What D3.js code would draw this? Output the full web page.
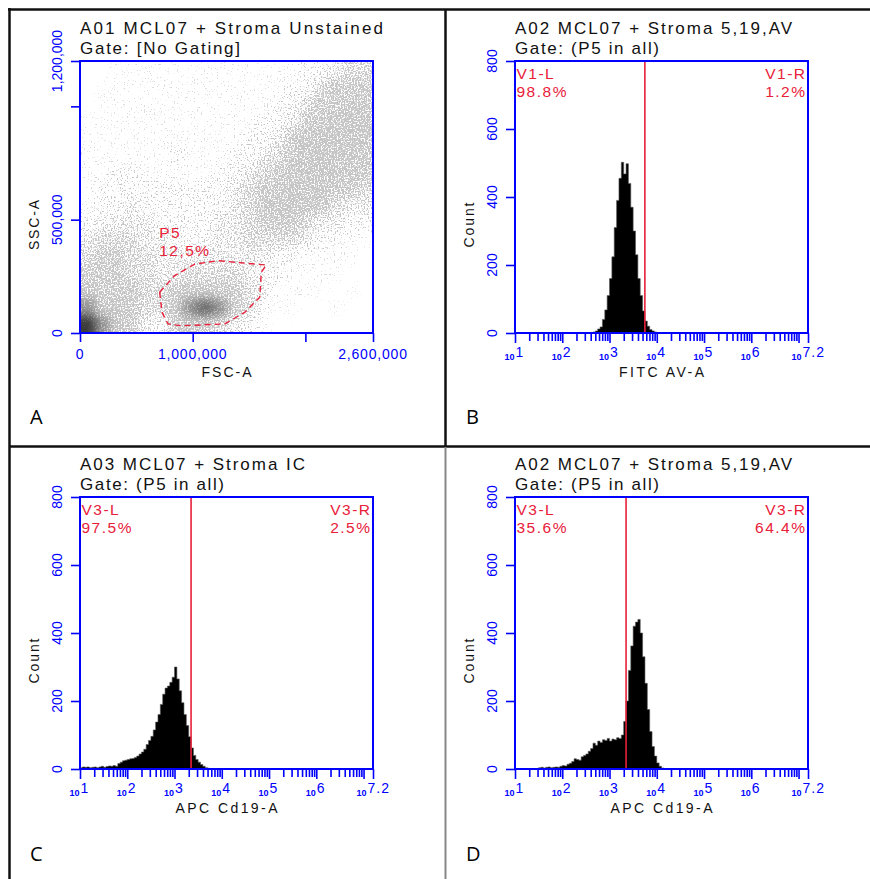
<!DOCTYPE html>
<html>
<head>
<meta charset="utf-8">
<style>
    body {
        margin: 0;
        background-color: white;
    }
    svg text {
        font-family: "Liberation Sans", Arial, sans-serif;
    }
    .title {
        fill: #111;
        font-size: 17px;
    }
    .tick-label {
        fill: #0000ff;
        font-size: 14px;
    }
    .axis-title {
        fill: #111;
        font-size: 14px;
    }
    .gate-label {
        fill: #e8203a;
        font-size: 15.5px;
        letter-spacing: 1.5px;
    }
    .panel-letter {
        font-family: "Open Sans", "Noto Sans", sans-serif !important;
        font-size: 20px;
        fill: #000;
    }
</style>
</head>
<body>
<script src="https://cdn.jsdelivr.net/npm/d3@7"></script>
<script>
    // ---- data ----
    var panelLetters = ["A", "B", "C", "D"];
    var titleLine1 = ["A01 MCL07 + Stroma Unstained", "A02 MCL07 + Stroma 5,19,AV", "A03 MCL07 + Stroma IC", "A02 MCL07 + Stroma 5,19,AV"];
    var titleLine2 = ["Gate: [No Gating]", "Gate: (P5 in all)", "Gate: (P5 in all)", "Gate: (P5 in all)"];
    var xAxisTitles = ["FSC-A", "FITC AV-A", "APC Cd19-A", "APC Cd19-A"];
    var yAxisTitles = ["SSC-A", "Count", "Count", "Count"];

    var fscTicks = [0, 1000000, 2000000, 2600000];
    var fscTickLabels = ["0", "1,000,000", "", "2,600,000"];
    var sscTicks = [0, 500000, 1000000, 1200000];
    var sscTickLabels = ["0", "500,000", "", "1,200,000"];
    var countTicks = [0, 200, 400, 600, 800];
    var decadeExponents = [1, 2, 3, 4, 5, 6, 7];
    var decadeLabelExponents = ["1", "2", "3", "4", "5", "6", "7.2"];

    // scatter density (A): 20 FSC columns x 16 SSC rows, top row first, level 0..9
    var fscStep = 130000;
    var sscStep = 75000;
    var densityGrid = [
        [0,0,1,1,1,1,1,1,1,1,1,1,1,1,1,2,2,3,4,4],
        [0,1,1,1,1,1,1,1,1,1,1,1,1,1,2,2,4,5,5,5],
        [0,1,1,1,1,1,1,1,1,1,1,1,1,2,2,4,5,5,6,5],
        [1,1,1,1,1,1,1,1,1,1,1,1,2,2,3,5,5,6,6,6],
        [1,1,1,1,1,1,1,1,1,1,1,2,2,3,5,6,6,6,6,6],
        [1,1,1,1,1,1,2,1,1,1,2,2,3,4,5,6,6,6,6,5],
        [1,1,2,2,1,1,1,1,1,2,2,3,4,5,6,6,6,6,5,5],
        [1,2,2,2,2,2,2,2,2,2,3,4,5,5,6,6,6,5,5,4],
        [1,2,2,3,2,2,2,2,2,2,3,4,5,6,6,6,5,4,3,3],
        [2,3,3,3,3,2,2,2,2,3,3,4,5,5,5,4,3,3,2,2],
        [3,4,4,4,3,3,2,2,2,3,3,4,4,4,4,3,2,2,1,1],
        [4,5,5,4,4,3,3,3,3,3,3,3,3,2,2,1,1,1,1,0],
        [5,5,5,4,4,3,3,4,4,4,4,3,2,2,1,1,1,1,0,0],
        [6,5,5,5,4,4,5,6,6,5,5,4,3,1,1,1,1,0,1,0],
        [7,6,6,5,4,4,6,7,8,7,5,4,2,1,1,0,0,1,0,0],
        [9,7,6,5,3,2,5,6,5,4,3,2,1,0,0,0,0,0,0,0]
    ];

    // P5 gate polygon [FSC, SSC]
    var gateP5 = [
        [707000, 180000], [728000, 91000], [781000, 40000], [899000, 32000],
        [1284000, 40000], [1461000, 91000], [1595000, 158000], [1609000, 268000],
        [1653000, 300000], [1225000, 319000], [1018000, 304000], [840000, 253000]
    ];
    var gateP5Label = ["P5", "12,5%"];

    // histograms: [log10 of bin start, count], bins 0.05 decade wide
    var binWidth = 0.05;
    var histB = [
        [2.65,3],[2.70,6],[2.75,12],[2.80,18],[2.85,40],[2.90,68],[2.95,110],[3.00,160],
        [3.05,224],[3.10,310],[3.15,390],[3.20,455],[3.25,502],[3.30,468],[3.35,498],[3.40,440],
        [3.45,370],[3.50,300],[3.55,230],[3.60,160],[3.65,110],[3.70,65],[3.75,35],[3.80,20],
        [3.85,10],[3.90,6],[3.95,3]
    ];
    var histC = [
        [1.00,4],[1.05,6],[1.10,5],[1.15,6],[1.20,4],[1.25,5],[1.30,6],[1.35,4],[1.40,6],[1.45,8],
        [1.50,5],[1.55,7],[1.60,9],[1.65,8],[1.70,10],[1.75,8],[1.80,16],[1.85,20],[1.90,24],[1.95,26],
        [2.00,28],[2.05,30],[2.10,31],[2.15,34],[2.20,38],[2.25,44],[2.30,50],[2.35,58],[2.40,72],[2.45,84],
        [2.50,96],[2.55,115],[2.60,138],[2.65,160],[2.70,190],[2.75,220],[2.80,238],[2.85,244],[2.90,255],[2.95,270],
        [3.00,300],[3.05,265],[3.10,230],[3.15,195],[3.20,160],[3.25,128],[3.30,95],[3.35,62],[3.40,40],[3.45,28],
        [3.50,20],[3.55,13],[3.60,8],[3.65,4],[3.70,2]
    ];
    var histD = [
        [1.50,4],[1.55,5],[1.60,3],[1.65,5],[1.70,6],[1.75,4],[1.80,5],[1.85,6],[1.90,5],[1.95,8],
        [2.00,10],[2.05,9],[2.10,14],[2.15,17],[2.20,22],[2.25,30],[2.30,28],[2.35,26],[2.40,36],[2.45,40],
        [2.50,44],[2.55,52],[2.60,60],[2.65,76],[2.70,70],[2.75,82],[2.80,78],[2.85,86],[2.90,84],[2.95,90],
        [3.00,82],[3.05,88],[3.10,86],[3.15,92],[3.20,90],[3.25,100],[3.30,140],[3.35,200],[3.40,290],[3.45,362],
        [3.50,420],[3.55,432],[3.60,440],[3.65,400],[3.70,330],[3.75,252],[3.80,175],[3.85,110],[3.90,66],[3.95,38],
        [4.00,18],[4.05,8],[4.10,3]
    ];
    var gateCuts = [5600, 2240, 2240];
    var gateNames = [["V1-L", "V1-R"], ["V3-L", "V3-R"], ["V3-L", "V3-R"]];
    var gatePercents = [["98.8%", "1.2%"], ["97.5%", "2.5%"], ["35.6%", "64.4%"]];

    // ---- layout ----
    var panels = [
        {x0: 9, y0: 9, plot: {x: 80, y: 61, w: 293, h: 272}},
        {x0: 445, y0: 9, plot: {x: 515, y: 61, w: 293, h: 272}},
        {x0: 9, y0: 446, plot: {x: 80, y: 497, w: 293, h: 272}},
        {x0: 445, y0: 446, plot: {x: 515, y: 497, w: 293, h: 272}}
    ];
    var titleWidths = [[303, 160], [277, 144], [225, 144], [277, 144]];
    var xTitleWidths = [50, 85, 102, 102];
    var yTitleWidths = [50, 45, 45, 45];

    var svg = d3.select("body")
            .append("svg")
            .attr("width", 870)
            .attr("height", 879);
    var defs = svg.append("defs");

    function styleTicks(sel) {
        sel.select(".domain").remove();
        sel.selectAll(".tick line")
                .attr("stroke", "#0000ff")
                .attr("stroke-width", 1.6);
    }

    function drawFrame(g, p) {
        g.append("rect")
                .attr("x", p.x).attr("y", p.y)
                .attr("width", p.w).attr("height", p.h)
                .attr("fill", "none")
                .attr("stroke", "#0000ff")
                .attr("stroke-width", 2);
    }

    function drawCommon(g, i) {
        var p = panels[i].plot;
        g.append("text").classed("title", 1)
                .attr("x", p.x).attr("y", p.y - 27)
                .attr("textLength", titleWidths[i][0]).attr("lengthAdjust", "spacing")
                .text(titleLine1[i]);
        g.append("text").classed("title", 1)
                .attr("x", p.x).attr("y", p.y - 7.5)
                .attr("textLength", titleWidths[i][1]).attr("lengthAdjust", "spacing")
                .text(titleLine2[i]);
        g.append("text").classed("axis-title", 1)
                .attr("x", p.x + p.w / 2 - xTitleWidths[i] / 2).attr("y", p.y + p.h + 44)
                .attr("textLength", xTitleWidths[i]).attr("lengthAdjust", "spacing")
                .text(xAxisTitles[i]);
        g.append("text").classed("axis-title", 1)
                .attr("transform", "translate(" + (p.x - 41) + "," + (p.y + 164 + yTitleWidths[i] / 2) + ") rotate(-90)")
                .attr("textLength", yTitleWidths[i]).attr("lengthAdjust", "spacing")
                .text(yAxisTitles[i]);
        g.append("text").classed("panel-letter", 1)
                .attr("x", panels[i].x0 + 21)
                .attr("y", panels[i].y0 + 415)
                .text(panelLetters[i]);
    }

    function drawYLabels(g, p, y, ticks, labels) {
        g.append("g")
                .attr("transform", "translate(" + p.x + ",0)")
                .call(d3.axisLeft(y).tickValues(ticks).tickSize(9).tickFormat(""))
                .call(styleTicks);
        g.selectAll(".ylab")
                .data(ticks)
                .enter()
                .append("text")
                .classed("tick-label", 1)
                .attr("text-anchor", "middle")
                .attr("transform", function (d) {
                    return "translate(" + (p.x - 18) + "," + y(d) + ") rotate(-90)";
                })
                .text(function (d, k) {
                    return labels[k];
                });
    }

    function drawScatter(g, i) {
        var p = panels[i].plot;
        var x = d3.scaleLinear().domain([0, 2600000]).range([p.x, p.x + p.w]);
        var y = d3.scaleLinear().domain([0, 1200000]).range([p.y + p.h, p.y]);
        var nRows = densityGrid.length, nCols = densityGrid[0].length;

        defs.append("clipPath").attr("id", "clip-scatter")
                .append("rect")
                .attr("x", p.x).attr("y", p.y).attr("width", p.w).attr("height", p.h);

        var grain = defs.append("filter").attr("id", "grain")
                .attr("filterUnits", "userSpaceOnUse")
                .attr("x", p.x - 30).attr("y", p.y - 30)
                .attr("width", p.w + 60).attr("height", p.h + 60);
        grain.append("feGaussianBlur").attr("in", "SourceGraphic").attr("stdDeviation", 5).attr("result", "blur");
        grain.append("feTurbulence").attr("type", "fractalNoise").attr("baseFrequency", 0.7)
                .attr("numOctaves", 1).attr("seed", 4).attr("result", "noise");
        grain.append("feColorMatrix").attr("in", "noise").attr("type", "matrix")
                .attr("values", "0 0 0 0 0  0 0 0 0 0  0 0 0 0 0  2.4 0 0 0 -0.7")
                .attr("result", "na");
        grain.append("feComposite").attr("in", "blur").attr("in2", "na")
                .attr("operator", "arithmetic")
                .attr("k1", 0).attr("k2", 4).attr("k3", 4).attr("k4", -4)
                .attr("result", "dots");
        grain.append("feColorMatrix").attr("in", "dots").attr("type", "matrix")
                .attr("values", "0 0 0 0 0.56  0 0 0 0 0.56  0 0 0 0 0.56  0 0 0 1 0");

        var soft = defs.append("filter").attr("id", "soft")
                .attr("filterUnits", "userSpaceOnUse")
                .attr("x", p.x - 30).attr("y", p.y - 30)
                .attr("width", p.w + 60).attr("height", p.h + 60);
        soft.append("feGaussianBlur").attr("stdDeviation", 5);

        var cells = [];
        densityGrid.forEach(function (row, r) {
            row.forEach(function (v, c) {
                cells.push({r: r, c: c, v: v});
            });
        });

        function cellBox(d) {
            var x0 = x(d.c * fscStep), x1 = x((d.c + 1) * fscStep);
            var y0 = y((nRows - d.r) * sscStep), y1 = y((nRows - d.r - 1) * sscStep);
            if (d.c === 0) x0 -= 25;
            if (d.c === nCols - 1) x1 += 25;
            if (d.r === 0) y0 -= 25;
            if (d.r === nRows - 1) y1 += 25;
            return {x: x0, y: y0, w: x1 - x0, h: y1 - y0};
        }

        var dotAlpha = d3.scaleLinear().domain([0, 1, 3, 5, 7, 9]).range([0, 0.15, 0.45, 0.72, 0.88, 1]).clamp(true);
        var darkAlpha = d3.scaleLinear().domain([6, 7, 8, 9]).range([0, 0.26, 0.45, 0.7]).clamp(true);

        var clip = g.append("g").attr("clip-path", "url(#clip-scatter)");

        clip.append("g").attr("filter", "url(#grain)")
                .selectAll("rect")
                .data(cells)
                .enter()
                .append("rect")
                .attr("x", function (d) { return cellBox(d).x; })
                .attr("y", function (d) { return cellBox(d).y; })
                .attr("width", function (d) { return cellBox(d).w + 0.5; })
                .attr("height", function (d) { return cellBox(d).h + 0.5; })
                .attr("fill", "#000")
                .attr("fill-opacity", function (d) { return dotAlpha(d.v); });

        clip.append("g").attr("filter", "url(#soft)")
                .selectAll("rect")
                .data(cells)
                .enter()
                .append("rect")
                .attr("x", function (d) { return cellBox(d).x; })
                .attr("y", function (d) { return cellBox(d).y; })
                .attr("width", function (d) { return cellBox(d).w + 0.5; })
                .attr("height", function (d) { return cellBox(d).h + 0.5; })
                .attr("fill", "#000")
                .attr("fill-opacity", function (d) { return darkAlpha(d.v); });

        // P5 gate
        g.append("path")
                .datum(gateP5)
                .attr("d", d3.line()
                        .x(function (d) { return x(d[0]); })
                        .y(function (d) { return y(d[1]); })
                        .curve(d3.curveLinearClosed))
                .attr("fill", "none")
                .attr("stroke", "#e8203a")
                .attr("stroke-width", 1.4)
                .attr("stroke-dasharray", "6,4");
        g.append("text").classed("gate-label", 1)
                .attr("x", x(gateP5[0][0]) - 0.5).attr("y", p.y + 177)
                .text(gateP5Label[0]);
        g.append("text").classed("gate-label", 1)
                .attr("x", x(gateP5[0][0]) - 0.5).attr("y", p.y + 195)
                .text(gateP5Label[1]);

        drawFrame(g, p);

        g.append("g")
                .attr("transform", "translate(0," + (p.y + p.h) + ")")
                .call(d3.axisBottom(x).tickValues(fscTicks).tickSize(9).tickFormat(""))
                .call(styleTicks);
        g.selectAll(".xlab")
                .data(fscTicks)
                .enter()
                .append("text")
                .classed("tick-label", 1)
                .attr("text-anchor", "middle")
                .style("letter-spacing", "0.8px")
                .attr("x", function (d) { return x(d); })
                .attr("y", p.y + p.h + 26)
                .text(function (d, k) { return fscTickLabels[k]; });

        drawYLabels(g, p, y, sscTicks, sscTickLabels);
    }

    function drawHistogram(g, i, bins, k) {
        var p = panels[i].plot;
        var x = d3.scaleLog().domain([10, Math.pow(10, 7.2)]).range([p.x, p.x + p.w]);
        var y = d3.scaleLinear().domain([0, 800]).range([p.y + p.h, p.y]);

        var pts = bins.map(function (d) {
            return [Math.pow(10, d[0]), d[1]];
        });
        pts.push([Math.pow(10, bins[bins.length - 1][0] + binWidth), 0]);

        g.append("path")
                .datum(pts)
                .attr("d", d3.area()
                        .x(function (d) { return x(d[0]); })
                        .y0(y(0))
                        .y1(function (d) { return y(d[1]); })
                        .curve(d3.curveStepAfter))
                .attr("fill", "#000")
                .attr("stroke", "#555")
                .attr("stroke-width", 0.6);

        g.append("line")
                .attr("x1", x(gateCuts[k])).attr("x2", x(gateCuts[k]))
                .attr("y1", p.y).attr("y2", p.y + p.h)
                .attr("stroke", "#e8203a")
                .attr("stroke-width", 1.6);

        drawFrame(g, p);

        g.append("text").classed("gate-label", 1)
                .attr("x", p.x + 1.5).attr("y", p.y + 18).text(gateNames[k][0]);
        g.append("text").classed("gate-label", 1)
                .attr("x", p.x + 1.5).attr("y", p.y + 36).text(gatePercents[k][0]);
        g.append("text").classed("gate-label", 1)
                .attr("text-anchor", "end")
                .attr("x", p.x + p.w - 1.5).attr("y", p.y + 18).text(gateNames[k][1]);
        g.append("text").classed("gate-label", 1)
                .attr("text-anchor", "end")
                .attr("x", p.x + p.w - 1.5).attr("y", p.y + 36).text(gatePercents[k][1]);

        // log axis: minor ticks 2..9 per decade, majors at decades and the top of range
        var minor = [];
        decadeExponents.forEach(function (e) {
            d3.range(2, 10).forEach(function (m) {
                if (m * Math.pow(10, e) <= Math.pow(10, 7.2)) minor.push(m * Math.pow(10, e));
            });
        });
        var major = decadeExponents.map(function (e) { return Math.pow(10, e); });
        major.push(Math.pow(10, 7.2));

        g.append("g")
                .attr("transform", "translate(0," + (p.y + p.h) + ")")
                .call(d3.axisBottom(x).tickValues(minor).tickSize(8).tickFormat(""))
                .call(styleTicks);
        g.append("g")
                .attr("transform", "translate(0," + (p.y + p.h) + ")")
                .call(d3.axisBottom(x).tickValues(major).tickSize(10).tickFormat(""))
                .call(styleTicks);

        var labelPos = decadeLabelExponents.map(function (s) { return Math.pow(10, +s); });
        var lab = g.selectAll(".loglab")
                .data(labelPos)
                .enter()
                .append("g")
                .attr("transform", function (d, n) {
                    var shift = n === labelPos.length - 1 ? -6 : 0;
                    return "translate(" + (x(d) + shift) + "," + (p.y + p.h) + ")";
                });
        lab.append("text")
                .attr("fill", "#0000ff")
                .attr("font-size", 9)
                .attr("font-weight", "bold")
                .attr("text-anchor", "end")
                .attr("x", -0.5).attr("y", 26.5)
                .text("10");
        lab.append("text")
                .attr("fill", "#0000ff")
                .attr("font-size", 14)
                .style("letter-spacing", "1px")
                .attr("x", 0.5).attr("y", 23.5)
                .text(function (d, n) { return decadeLabelExponents[n]; });

        drawYLabels(g, p, y, countTicks, countTicks.map(String));
    }

    // panel borders
    var borders = svg.append("g");
    borders.append("line").attr("x1", 8).attr("x2", 870).attr("y1", 9.5).attr("y2", 9.5)
            .attr("stroke", "#111").attr("stroke-width", 2.5);
    borders.append("line").attr("x1", 9.5).attr("x2", 9.5).attr("y1", 8).attr("y2", 879)
            .attr("stroke", "#111").attr("stroke-width", 2.5);
    borders.append("line").attr("x1", 9).attr("x2", 870).attr("y1", 446.5).attr("y2", 446.5)
            .attr("stroke", "#111").attr("stroke-width", 2.5);
    borders.append("line").attr("x1", 445.5).attr("x2", 445.5).attr("y1", 9).attr("y2", 447)
            .attr("stroke", "#111").attr("stroke-width", 2.5);
    borders.append("line").attr("x1", 445.5).attr("x2", 445.5).attr("y1", 447).attr("y2", 879)
            .attr("stroke", "#888").attr("stroke-width", 2);

    var hists = [histB, histC, histD];
    panels.forEach(function (panel, i) {
        var g = svg.append("g").classed("panel", 1);
        if (i === 0) {
            drawScatter(g, i);
        } else {
            drawHistogram(g, i, hists[i - 1], i - 1);
        }
        drawCommon(g, i);
    });
</script>
</body>
</html>
